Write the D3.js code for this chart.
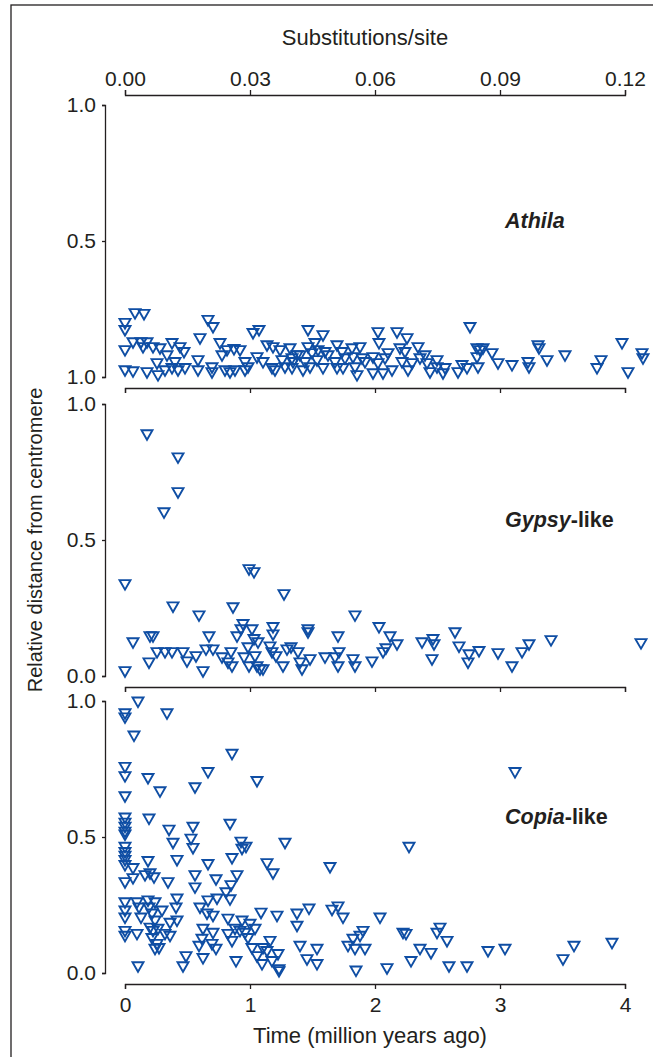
<!DOCTYPE html>
<html>
<head>
<meta charset="utf-8">
<script src="https://cdn.jsdelivr.net/npm/d3@7/dist/d3.min.js"></script>
<style>
body { margin: 0; background: #fff; }
text { font-family: "Liberation Sans", Arial, sans-serif; fill: #231f20; }
.axis path, .axis line { stroke: #231f20; stroke-width: 1.3; }
</style>
</head>
<body>
<div id="chart-area"></div>
<script>
// [time (Myr ago), relative distance from centromere]
var athilaPoints = [
  [0,0.196],[0,0.170],[0.08,0.232],[0.152,0.229],[0.064,0.125],[0.128,0.125],[0.144,0.107],[0.176,0.125],
  [0.224,0.107],[0.28,0.103],[0.376,0.122],[0.44,0.107],[0.472,0.089],[0,0.096],[0,0.022],[0.064,0.018],
  [0.176,0.015],[0.256,0.048],[0.264,0.004],[0.336,0.077],[0.32,0.022],[0.376,0.030],[0.40,0.052],[0.424,0.022],
  [0.48,0.030],[0.60,0.140],[0.664,0.207],[0.704,0.181],[0.584,0.059],[0.584,0.022],[0.696,0.033],[0.696,0.015],
  [0.76,0.122],[0.776,0.077],[0.816,0.096],[0.872,0.100],[0.92,0.096],[0.80,0.022],[0.84,0.015],[0.88,0.022],
  [0.96,0.052],[0.96,0.022],[0.984,0.033],[1.024,0.159],[1.072,0.170],[1.056,0.070],[1.104,0.052],[1.136,0.114],
  [1.184,0.107],[1.176,0.030],[1.20,0.022],[1.24,0.096],[1.256,0.059],[1.28,0.033],[1.32,0.103],[1.336,0.066],
  [1.376,0.077],[1.344,0.052],[1.336,0.030],[1.40,0.077],[1.44,0.052],[1.424,0.022],[1.464,0.170],[1.464,0.107],
  [1.496,0.085],[1.48,0.033],[1.52,0.122],[1.536,0.059],[1.544,0.096],[1.584,0.151],[1.584,0.030],[1.60,0.089],
  [1.624,0.077],[1.696,0.114],[1.68,0.052],[1.696,0.030],[1.736,0.089],[1.744,0.030],[1.76,0.066],[1.816,0.103],
  [1.824,0.070],[1.84,0.033],[1.856,0.004],[1.88,0.107],[1.896,0.066],[1.92,0.052],[1.984,0.070],[1.984,0.011],
  [2.024,0.162],[2.032,0.122],[2.024,0.048],[2.064,0.011],[2.08,0.066],[2.104,0.085],[2.136,0.022],[2.176,0.162],
  [2.20,0.103],[2.216,0.052],[2.24,0.089],[2.256,0.140],[2.264,0.022],[2.296,0.048],[2.344,0.107],[2.36,0.066],
  [2.40,0.077],[2.416,0.048],[2.44,0.015],[2.496,0.059],[2.496,0.033],[2.56,0.030],[2.544,0.011],[2.664,0.015],
  [2.696,0.041],[2.736,0.030],[2.76,0.181],[2.816,0.103],[2.816,0.070],[2.864,0.103],[2.84,0.096],[2.824,0.033],
  [2.936,0.085],[2.984,0.048],[3.096,0.041],[3.224,0.052],[3.232,0.033],[3.304,0.114],[3.312,0.103],[3.376,0.059],
  [3.52,0.077],[3.776,0.030],[3.808,0.059],[3.976,0.122],[4.024,0.015],[4.136,0.085],[4.144,0.066]
];

var gypsyPoints = [
  [0.176,0.886],[0.424,0.801],[0.424,0.673],[0.312,0.599],[0,0.335],[0.992,0.390],[1.032,0.379],[1.272,0.298],
  [0.384,0.253],[0.592,0.220],[0.864,0.250],[1.84,0.220],[2.032,0.177],[0.064,0.121],[0.2,0.143],[0.224,0.143],
  [0.192,0.047],[0.256,0.085],[0.32,0.085],[0.376,0.085],[0.464,0.085],[0.496,0.051],[0.568,0.070],[0.624,0.015],
  [0.648,0.095],[0.672,0.143],[0.704,0.095],[0.776,0.066],[0.824,0.047],[0.848,0.085],[0.856,0.033],[0.896,0.143],
  [0.928,0.169],[0.944,0.188],[0.952,0.066],[0.984,0.103],[0.992,0.033],[1.016,0.169],[1.032,0.133],[1.04,0.070],
  [1.056,0.033],[1.064,0.121],[1.08,0.022],[1.104,0.022],[1.16,0.106],[1.176,0.085],[1.184,0.177],[1.184,0.150],
  [1.208,0.070],[1.264,0.033],[1.296,0.095],[1.328,0.103],[1.384,0.085],[1.4,0.047],[1.416,0.022],[1.464,0.169],
  [1.464,0.158],[1.48,0.059],[1.6,0.066],[1.68,0.066],[1.704,0.143],[1.712,0.085],[1.704,0.033],[1.824,0.059],
  [1.84,0.033],[1.976,0.051],[2.064,0.085],[2.088,0.099],[2.12,0.143],[2.176,0.114],[2.376,0.121],[2.464,0.133],
  [2.472,0.114],[2.456,0.059],[2.64,0.158],[2.672,0.106],[2.752,0.077],[2.744,0.047],[2.832,0.089],[2.984,0.081],
  [3.096,0.033],[3.176,0.085],[3.232,0.114],[3.408,0.129],[0,0.015],[4.128,0.118]
];

var copiaPoints = [
  [0.104,0.995],[0,0.952],[0,0.937],[0.336,0.952],[0.072,0.870],[0.856,0.803],[0,0.755],[0,0.721],
  [0.184,0.714],[0.664,0.736],[1.056,0.703],[0.28,0.665],[0.56,0.680],[0,0.647],[0,0.569],[0,0.550],
  [0,0.535],[0,0.517],[0,0.506],[0.192,0.565],[0.352,0.524],[0.544,0.535],[0.84,0.546],[0.384,0.476],
  [0.528,0.491],[0.544,0.457],[0.928,0.480],[0.968,0.461],[0.936,0.454],[1.28,0.476],[0,0.461],[0,0.442],
  [0,0.428],[0,0.413],[0,0.394],[0.416,0.413],[0.184,0.409],[0.064,0.383],[0.664,0.398],[0.856,0.420],
  [1.136,0.401],[1.184,0.364],[1.64,0.387],[0,0.331],[0.064,0.346],[0.16,0.357],[0.20,0.364],[0.232,0.349],
  [0.344,0.331],[0.56,0.357],[0.56,0.312],[0.728,0.342],[0.896,0.357],[0.848,0.320],[0.808,0.294],[0.84,0.268],
  [0,0.257],[0,0.227],[0,0.201],[0,0.152],[0,0.134],[0.096,0.257],[0.112,0.238],[0.128,0.201],
  [0.184,0.264],[0.192,0.238],[0.24,0.257],[0.216,0.216],[0.24,0.190],[0.296,0.227],[0.20,0.164],[0.224,0.152],
  [0.264,0.160],[0.216,0.126],[0.256,0.104],[0.24,0.086],[0.272,0.089],[0.32,0.141],[0.36,0.182],[0.36,0.134],
  [0.416,0.271],[0.408,0.238],[0.416,0.190],[0.096,0.141],[0.104,0.022],[0.464,0.022],[0.488,0.059],[0.60,0.238],
  [0.624,0.160],[0.616,0.123],[0.592,0.097],[0.624,0.052],[0.656,0.216],[0.664,0.264],[0.704,0.208],[0.704,0.145],
  [0.696,0.104],[0.728,0.086],[0.736,0.271],[0.824,0.197],[0.824,0.141],[0.856,0.115],[0.88,0.160],[0.888,0.041],
  [0.92,0.152],[0.936,0.190],[0.96,0.145],[0.984,0.126],[1.00,0.178],[1.016,0.089],[1.04,0.160],[1.056,0.059],
  [1.088,0.219],[1.104,0.089],[1.136,0.078],[1.096,0.030],[1.16,0.115],[1.176,0.041],[1.216,0.208],[1.224,0.067],
  [1.232,0.011],[1.232,0.004],[1.376,0.216],[1.376,0.171],[1.40,0.097],[1.456,0.048],[1.472,0.234],[1.536,0.086],
  [1.536,0.030],[1.656,0.230],[1.704,0.242],[1.744,0.201],[1.784,0.097],[1.824,0.123],[1.84,0.086],[1.848,0.006],
  [1.88,0.134],[1.904,0.152],[1.92,0.086],[2.04,0.201],[2.096,0.015],[3.12,0.736],[2.272,0.461],[2.224,0.145],
  [2.248,0.141],[2.288,0.041],[2.36,0.086],[2.448,0.071],[2.496,0.145],[2.52,0.164],[2.576,0.115],[2.592,0.022],
  [2.736,0.022],[2.904,0.078],[3.04,0.086],[3.504,0.048],[3.592,0.097],[3.896,0.108]
];

var panelNames = ["Athila", "Gypsy", "Copia"];
var panelSuffix = ["", "-like", "-like"];
var panelPoints = [athilaPoints, gypsyPoints, copiaPoints];
var yTickValues = [0, 0.5, 1];
var yTickLabels = [["1.0", "0.5", "1.0"], ["0.0", "0.5", "1.0"], ["0.0", "0.5", "1.0"]];
var timeTicks = [0, 1, 2, 3, 4];
var substTicks = [0, 0.03, 0.06, 0.09, 0.12];

var width = 653, height = 1057;
var panelTop = [105, 404, 701];
var panelH = 272;
var axisX = 105;
var markColor = "#0f4ea4";
var fs = "21px";

var svg = d3.select("#chart-area").append("svg")
  .attr("width", width)
  .attr("height", height);

// frame (top and left edges visible)
svg.append("rect")
  .attr("x", 11).attr("y", 5)
  .attr("width", 800).attr("height", 1200)
  .attr("fill", "none").attr("stroke", "#231f20").attr("stroke-width", 1.3);

var xScale = d3.scaleLinear().domain([0, 4]).range([125, 625]);
var sScale = d3.scaleLinear().domain([0, 0.12]).range([125, 625]);

// top axis: substitutions/site
var topAxis = svg.append("g")
  .attr("class", "axis")
  .attr("transform", "translate(0,95)")
  .call(d3.axisTop(sScale).tickValues(substTicks).tickSize(5).tickSizeOuter(5).tickPadding(4).tickFormat(d3.format(".2f")));
topAxis.selectAll("text").attr("font-size", fs).style("font-family", null);

svg.append("text")
  .attr("x", 365).attr("y", 45)
  .attr("text-anchor", "middle")
  .attr("font-size", "22px")
  .text("Substitutions/site");

var tri = "M-5.5,-4.8L5.5,-4.8L0,4.8Z";

panelPoints.forEach(function(points, i) {
  var top = panelTop[i];
  var yScale = d3.scaleLinear().domain([0, 1]).range([top + panelH, top]);

  var yAxis = svg.append("g")
    .attr("class", "axis")
    .attr("transform", "translate(" + axisX + ",0)")
    .call(d3.axisLeft(yScale).tickValues(yTickValues).tickSize(3).tickSizeOuter(3).tickPadding(6)
      .tickFormat(function(d, k) { return yTickLabels[i][k]; }));
  yAxis.selectAll("text").attr("font-size", fs).style("font-family", null);

  var xAxis = svg.append("g")
    .attr("class", "axis")
    .attr("transform", "translate(0," + (top + panelH + 11) + ")")
    .call(d3.axisBottom(xScale).tickValues(timeTicks).tickSize(5).tickSizeOuter(5).tickPadding(8).tickFormat(d3.format("d")));
  xAxis.selectAll("text").attr("font-size", fs).style("font-family", null);
  if (i < 2) xAxis.selectAll("text").remove();

  svg.append("g").selectAll("path")
    .data(points)
    .enter().append("path")
    .attr("d", tri)
    .attr("transform", function(d) { return "translate(" + xScale(d[0]) + "," + yScale(d[1]) + ")"; })
    .attr("fill", "none")
    .attr("stroke", markColor)
    .attr("stroke-width", 1.9);

  var label = svg.append("text")
    .attr("x", 505).attr("y", top + 123)
    .attr("font-size", "21.5px")
    .attr("font-weight", "bold");
  label.append("tspan").attr("font-style", "italic").text(panelNames[i]);
  label.append("tspan").text(panelSuffix[i]);
});

svg.append("text")
  .attr("x", 370).attr("y", 1043)
  .attr("text-anchor", "middle")
  .attr("font-size", "22px")
  .text("Time (million years ago)");

svg.append("text")
  .attr("transform", "translate(42,540) rotate(-90)")
  .attr("text-anchor", "middle")
  .attr("font-size", "20px")
  .text("Relative distance from centromere");
</script>
</body>
</html>
